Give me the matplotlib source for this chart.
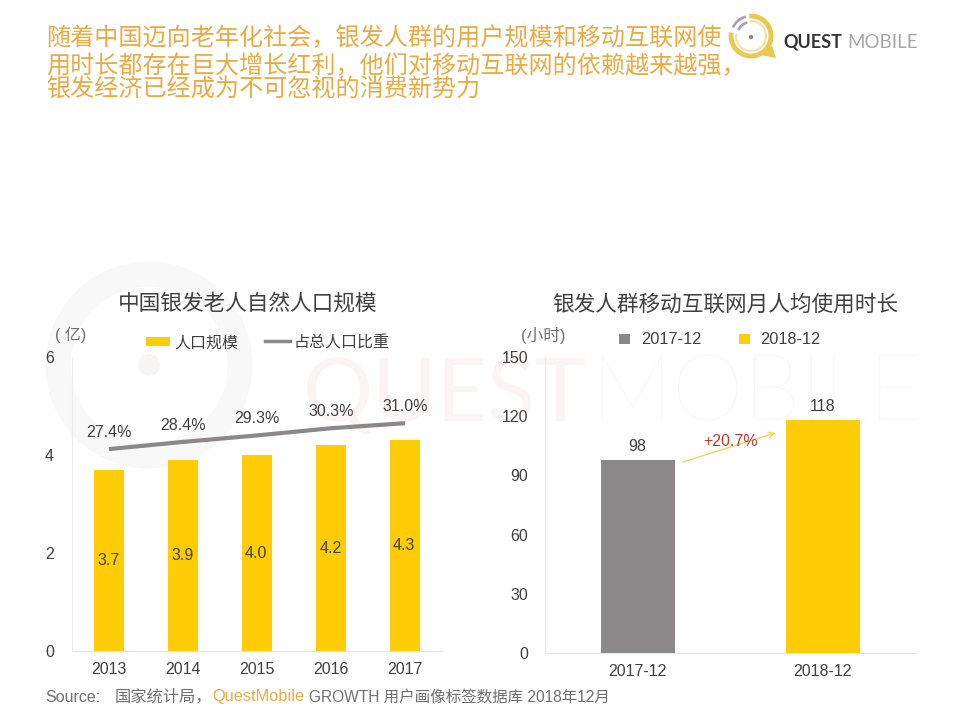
# -*- encoding: utf-8 -*-

import numpy as np
import matplotlib.pyplot as plt
from matplotlib.patches import Circle, Arc, Rectangle, Polygon

plt.rcParams['font.family'] = ['Liberation Sans', 'Noto Sans CJK SC', 'DejaVu Sans']

W, H = 960, 720

years = ['2013', '2014', '2015', '2016', '2017']
population = [3.7, 3.9, 4.0, 4.2, 4.3]
pop_share = [27.4, 28.4, 29.3, 30.3, 31.0]
pop_ticks = [0, 2, 4, 6]

months = ['2017-12', '2018-12']
usage_hours = [98, 118]
usage_ticks = [0, 30, 60, 90, 120, 150]
usage_growth = '+20.7%'

headline = ['随着中国迈向老年化社会，银发人群的用户规模和移动互联网使',
            '用时长都存在巨大增长红利，他们对移动互联网的依赖越来越强，',
            '银发经济已经成为不可忽视的消费新势力']

YELLOW = '#FFCC05'
GREY = '#8C8889'
TEXT = '#404040'
ORANGE = '#E9AC45'
MARK = '#F9F8F8'


def px_axes(fig, left, right, top, bottom):
    return fig.add_axes([left / W, 1 - bottom / H, (right - left) / W, (bottom - top) / H])


fig = plt.figure(figsize=(9.6, 7.2), dpi=100)

# 底层：水印和logo，用像素坐标
bg = fig.add_axes([0, 0, 1, 1])
bg.set_xlim(0, W)
bg.set_ylim(H, 0)
bg.axis('off')

bg.add_patch(Circle((149, 365), 91, fill=False, ec=MARK, lw=18))
bg.add_patch(Circle((149, 365), 11, fc='#F9F4F4', ec='none'))
bg.text(303, 396, 'QUEST', fontsize=63, color='#FAF4F4', family='Lato', va='center', ha='left')
bg.text(590, 396, 'MOBILE', fontsize=66, color='#F9F7F7', family='Lato', va='center', ha='left',
        fontweight='light')

# logo
bg.add_patch(Arc((751, 36), 40, 40, theta1=265, theta2=550, ec='#E9C94F', lw=3.5))
bg.add_patch(Arc((751, 36), 30, 30, theta1=265, theta2=550, ec='#F3E4A6', lw=1.5))
bg.add_patch(Polygon([(756, 54), (772, 46), (776, 58)], fc='#E9C94F', ec='none'))
bg.add_patch(Arc((751, 36), 40, 40, theta1=205, theta2=255, ec='#A8A3B5', lw=2))
bg.add_patch(Arc((751, 36), 28, 28, theta1=205, theta2=255, ec='#A8A3B5', lw=2))
bg.add_patch(Circle((751, 37), 2.2, fc='#8A8792', ec='none'))
bg.text(783, 42, 'QUEST', fontsize=13, color='#333333', fontweight='bold', va='center', family='Lato')
bg.text(847, 42, 'MOBILE', fontsize=13.5, color='#A6A6A6', va='center', family='Lato')

for text, y in zip(headline, [38, 66, 90]):
    bg.text(46, y, text, fontsize=17.35, color=ORANGE, va='center', ha='left')

bg.text(247.5, 304, '中国银发老人自然人口规模', fontsize=15.6, color=TEXT, ha='center', va='center')
bg.text(725, 305, '银发人群移动互联网月人均使用时长', fontsize=15.6, color=TEXT, ha='center', va='center')

# 左图
ax = px_axes(fig, 72, 442, 357, 651)
ax.patch.set_alpha(0)
x = np.arange(len(years))
ax.bar(x, population, width=0.41, color=YELLOW, label='人口规模')
ax.set_xlim(-0.5, 4.5)
ax.set_ylim(0, 6)
ax.set_yticks(pop_ticks)
ax.set_xticks(x, years)
for xi, v in zip(x, population):
    ax.text(xi - 0.01, v / 2, '%.1f' % v, ha='center', va='center', fontsize=11.5, color=TEXT)

ax2 = ax.twinx()
ax2.set_ylim(-0.66, 40.2)
ax2.axis('off')
ax2.plot(x, pop_share, color=GREY, lw=3, solid_capstyle='butt', label='占总人口比重')
for xi, v in zip(x, pop_share):
    ax2.annotate('%.1f%%' % v, (xi, v), xytext=(0, 12), textcoords='offset points',
                 ha='center', va='center', fontsize=11.5, color=TEXT)

# 右图
ax3 = px_axes(fig, 545, 915, 357, 653)
ax3.patch.set_alpha(0)
x3 = np.arange(len(months))
ax3.bar(x3, usage_hours, width=0.4, color=[GREY, YELLOW])
ax3.set_xlim(-0.5, 1.5)
ax3.set_ylim(0, 150)
ax3.set_yticks(usage_ticks)
ax3.set_xticks(x3, months)
for xi, v in zip(x3, usage_hours):
    ax3.text(xi, v + 3, str(v), ha='center', va='bottom', fontsize=11.5, color=TEXT)

ax3.annotate('', xy=(0.76, 112), xytext=(0.23, 96.3),
             arrowprops=dict(arrowstyle='->', color='#E3DB60', lw=1))
ax3.text(0.505, 107, usage_growth, ha='center', va='center', fontsize=11.5, color='#C0392B')

for a in (ax, ax3):
    for side in ('top', 'right'):
        a.spines[side].set_visible(False)
    a.spines['left'].set_color('#ECECEC')
    a.spines['bottom'].set_color('#E4E4E4')
    a.tick_params(length=0, labelsize=11.5, labelcolor=TEXT)
    a.tick_params(axis='x', pad=8)
ax.tick_params(axis='y', pad=13)
ax3.tick_params(axis='y', pad=12)

# 单位和图例
bg.text(71, 335, '( 亿)', fontsize=11.5, color='#707070', ha='center', va='center')
bg.text(543, 336, '(小时)', fontsize=12, color='#707070', ha='center', va='center')

bg.add_patch(Rectangle((146, 337), 24, 9, fc=YELLOW, ec='none'))
bg.text(174, 343, '人口规模', fontsize=11.5, color=TEXT, va='center')
bg.plot([265, 290], [341, 341], color=GREY, lw=2.5)
bg.text(294, 343, '占总人口比重', fontsize=11.5, color=TEXT, va='center')

bg.add_patch(Rectangle((619, 334), 11, 10, fc=GREY, ec='none'))
bg.text(641, 340, months[0], fontsize=11.8, color=TEXT, va='center')
bg.add_patch(Rectangle((739, 334), 11, 10, fc=YELLOW, ec='none'))
bg.text(760, 340, months[1], fontsize=11.8, color=TEXT, va='center')

# 来源
bg.text(45, 697, 'Source:', fontsize=11.5, color='#707070', va='center')
bg.text(115, 697, '国家统计局，', fontsize=11.7, color='#707070', va='center')
bg.text(212, 697, 'QuestMobile', fontsize=11.8, color=ORANGE, va='center')
bg.text(309, 697, 'GROWTH 用户画像标签数据库 2018年12月', fontsize=11.2, color='#707070', va='center')

plt.savefig('out.png', dpi=100)
